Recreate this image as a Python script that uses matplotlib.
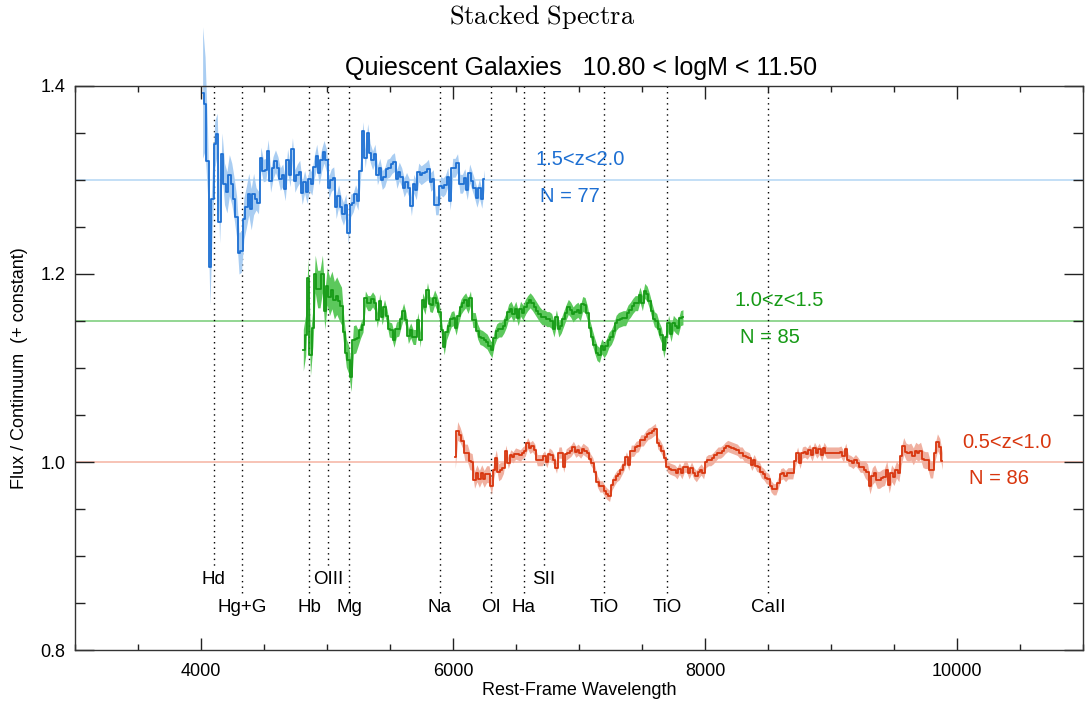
import numpy as np
import matplotlib.pyplot as plt
from matplotlib.ticker import MultipleLocator

plt.rcParams['font.family'] = ['Liberation Sans', 'DejaVu Sans']
plt.rcParams['mathtext.fontset'] = 'cm'

# stacked spectra (20 A bins)
blue_flux = [1.393, 1.381, 1.320, 1.207, 1.280, 1.338, 1.349, 1.255, 1.328, 1.296,
             1.287, 1.305, 1.296, 1.280, 1.261, 1.222, 1.224, 1.259, 1.271, 1.285,
             1.269, 1.285, 1.280, 1.276, 1.323, 1.310, 1.311, 1.331, 1.299, 1.313,
             1.320, 1.313, 1.301, 1.305, 1.290, 1.321, 1.305, 1.333, 1.299, 1.305,
             1.309, 1.286, 1.298, 1.287, 1.301, 1.296, 1.314, 1.326, 1.307, 1.321,
             1.330, 1.321, 1.292, 1.300, 1.302, 1.271, 1.283, 1.271, 1.264, 1.273,
             1.244, 1.273, 1.276, 1.285, 1.278, 1.310, 1.352, 1.323, 1.350, 1.329,
             1.321, 1.328, 1.305, 1.313, 1.300, 1.303, 1.312, 1.313, 1.317, 1.319,
             1.301, 1.309, 1.303, 1.292, 1.298, 1.292, 1.272, 1.296, 1.289, 1.308,
             1.305, 1.307, 1.309, 1.312, 1.298, 1.301, 1.273, 1.273, 1.294, 1.292,
             1.295, 1.303, 1.278, 1.313, 1.313, 1.318, 1.296, 1.296, 1.302, 1.289,
             1.307, 1.299, 1.291, 1.281, 1.291, 1.280, 1.301]
blue_err = ([0.07, 0.05, 0.035, 0.04, 0.03, 0.025] + [0.022] * 16 + [0.012] * 40
            + [0.01] * 55)
blue_range = (4013, 6248)

green_flux = [1.119, 1.135, 1.196, 1.114, 1.143, 1.200, 1.184, 1.184, 1.200, 1.161,
              1.187, 1.176, 1.183, 1.172, 1.177, 1.171, 1.166, 1.138, 1.116, 1.109,
              1.090, 1.130, 1.131, 1.132, 1.140, 1.146, 1.174, 1.169, 1.169, 1.173,
              1.169, 1.151, 1.171, 1.154, 1.165, 1.155, 1.141, 1.140, 1.130, 1.141,
              1.142, 1.152, 1.161, 1.151, 1.134, 1.140, 1.133, 1.133, 1.151, 1.130,
              1.172, 1.165, 1.183, 1.168, 1.167, 1.175, 1.169, 1.160, 1.140, 1.122,
              1.138, 1.145, 1.152, 1.153, 1.143, 1.155, 1.165, 1.169, 1.172, 1.166,
              1.174, 1.151, 1.151, 1.139, 1.133, 1.132, 1.130, 1.128, 1.123, 1.119,
              1.132, 1.139, 1.141, 1.141, 1.145, 1.151, 1.160, 1.163, 1.157, 1.163,
              1.153, 1.163, 1.159, 1.165, 1.169, 1.172, 1.169, 1.165, 1.161, 1.157,
              1.154, 1.154, 1.152, 1.152, 1.150, 1.141, 1.154, 1.141, 1.145, 1.152,
              1.159, 1.165, 1.162, 1.157, 1.160, 1.162, 1.158, 1.168, 1.167, 1.158,
              1.143, 1.133, 1.124, 1.116, 1.114, 1.123, 1.119, 1.123, 1.130, 1.133,
              1.139, 1.148, 1.151, 1.152, 1.153, 1.153, 1.159, 1.162, 1.166, 1.169,
              1.169, 1.178, 1.169, 1.182, 1.179, 1.171, 1.161, 1.152, 1.150, 1.141,
              1.135, 1.119, 1.133, 1.148, 1.136, 1.148, 1.145, 1.143, 1.153, 1.154]
green_err = ([0.022, 0.022, 0.02, 0.022, 0.02] + [0.02] * 12 + [0.015] * 6
             + [0.008] * 137)
green_range = (4812, 7825)

red_flux = [1.005, 1.033, 1.029, 1.022, 1.010, 1.010, 1.001, 1.000, 0.981, 0.988,
            0.982, 0.988, 0.982, 0.987, 0.987, 0.974, 0.992, 1.004, 0.989, 0.991,
            0.994, 1.012, 0.999, 1.007, 1.005, 1.009, 1.008, 1.007, 1.010, 1.012,
            1.020, 1.015, 1.017, 1.013, 1.002, 1.002, 1.002, 1.006, 1.000, 1.009,
            1.007, 1.002, 0.994, 1.010, 1.010, 0.995, 1.008, 1.010, 1.012, 1.016,
            1.011, 1.013, 1.010, 1.014, 1.012, 1.010, 1.003, 0.999, 0.989, 0.979,
            0.974, 0.974, 0.969, 0.966, 0.964, 0.976, 0.981, 0.985, 0.987, 0.992,
            0.997, 1.005, 0.997, 1.012, 1.012, 1.016, 1.017, 1.023, 1.023, 1.027,
            1.030, 1.031, 1.033, 1.035, 1.020, 1.017, 1.012, 1.004, 0.995, 0.993,
            0.992, 0.991, 0.988, 0.993, 0.988, 0.995, 0.995, 0.988, 0.994, 0.988,
            0.985, 0.989, 0.992, 0.988, 1.000, 1.002, 1.002, 1.004, 1.007, 1.010,
            1.010, 1.012, 1.015, 1.017, 1.016, 1.015, 1.014, 1.013, 1.010, 1.010,
            1.006, 1.005, 1.004, 0.997, 1.002, 0.996, 0.995, 0.989, 0.987, 0.983,
            0.982, 0.974, 0.971, 0.971, 0.978, 0.987, 0.988, 0.985, 0.988, 0.988,
            0.988, 1.001, 1.010, 0.999, 1.010, 1.011, 1.009, 1.013, 1.007, 1.015,
            1.010, 1.014, 1.007, 1.015, 1.010, 1.010, 1.010, 1.010, 1.010, 1.010,
            1.011, 1.006, 1.014, 1.002, 1.001, 0.999, 1.002, 0.999, 0.995, 0.995,
            0.992, 0.989, 0.975, 0.985, 0.988, 0.981, 0.981, 0.983, 0.984, 0.992,
            0.976, 0.988, 0.984, 0.992, 0.988, 1.006, 1.017, 1.011, 1.010, 1.011,
            1.006, 1.012, 1.010, 1.012, 1.003, 1.002, 1.002, 0.992, 0.992, 1.010,
            1.021, 1.016, 1.001]
red_err = ([0.012, 0.01, 0.008, 0.007] + [0.009] * 16 + [0.006] * 150
           + [0.009] * 33)
red_range = (6018, 9883)

# spectral features: name, wavelength, label row (0 upper, 1 lower)
line_names = ['Hd', 'Hg+G', 'Hb', 'OIII', 'Mg', 'Na', 'OI', 'Ha', 'SII', 'TiO', 'TiO', 'CaII']
line_waves = [4102, 4325, 4861, 5007, 5175, 5893, 6300, 6563, 6720, 7200, 7700, 8500]
line_rows = [0, 1, 1, 0, 1, 1, 1, 1, 0, 1, 1, 1]

fig = plt.figure(figsize=(10.85, 7.04), dpi=100)
ax = fig.add_axes([75/1085, 1-650/704, 1008/1085, 564/704])

# dotted feature markers
for name, wl, row in zip(line_names, line_waves, line_rows):
    ybot = 0.889 if row == 0 else 0.858
    ylab = 0.875 if row == 0 else 0.845
    ax.plot([wl, wl], [1.4, ybot], color='black', lw=1.0, ls=(0, (1, 3)), zorder=1)
    ax.text(wl, ylab, name, ha='center', va='center', fontsize=13.5)

series = [
    (blue_flux, blue_err, blue_range, 1.30, '#1d6fd2', '#a9cdf2', '#b9d9f5',
     '1.5<z<2.0', 'N = 77', (6654, 1.322), (6693, 1.282)),
    (green_flux, green_err, green_range, 1.15, '#169a16', '#5cc85c', '#80cf80',
     '1.0<z<1.5', 'N = 85', (8237, 1.172), (8277, 1.132)),
    (red_flux, red_err, red_range, 1.00, '#d8360e', '#f0b0a0', '#f6b9a9',
     '0.5<z<1.0', 'N = 86', (10041, 1.021), (10097, 0.982)),
]

for flux, err, rng, level, lc, fc, hc, zlab, nlab, p1, p2 in series:
    flux = np.array(flux)
    err = np.array(err[:len(flux)])
    wave = np.linspace(rng[0], rng[1], len(flux))
    ax.axhline(level, color=hc, lw=1.2, zorder=0)
    ax.fill_between(wave, flux - err, flux + err, color=fc, lw=0, zorder=2, clip_on=False)
    ax.plot(wave, flux, drawstyle='steps-mid', color=lc, lw=1.3, zorder=3)
    ax.text(p1[0], p1[1], zlab, color=lc, fontsize=14.5, ha='left', va='center')
    ax.text(p2[0], p2[1], nlab, color=lc, fontsize=14.5, ha='left', va='center')

ax.set_xlim(3000, 11000)
ax.set_ylim(0.8, 1.4)
ax.xaxis.set_major_locator(MultipleLocator(2000))
ax.xaxis.set_minor_locator(MultipleLocator(500))
ax.yaxis.set_major_locator(MultipleLocator(0.2))
ax.yaxis.set_minor_locator(MultipleLocator(0.05))
ax.yaxis.set_major_formatter(plt.FormatStrFormatter('%.1f'))
ax.xaxis.set_major_formatter(plt.FormatStrFormatter('%d'))
ax.tick_params(axis='both', which='both', direction='in', top=True, right=True,
               labelsize=13, width=1.0, color='#222222')
ax.tick_params(axis='x', which='major', length=9, pad=9)
ax.tick_params(axis='x', which='minor', length=4.5)
ax.tick_params(axis='y', which='major', length=14, pad=7)
ax.tick_params(axis='y', which='minor', length=7)
for sp in ax.spines.values():
    sp.set_color('#333333')
    sp.set_linewidth(1.0)

ax.set_xlabel('Rest-Frame Wavelength', fontsize=13, labelpad=2)
ax.set_ylabel('Flux / Continuum  (+ constant)', fontsize=13, labelpad=9)

fig.text(0.5, 1-17/704, r'$\mathrm{Stacked\ Spectra}$', ha='center', va='center', fontsize=19)
fig.text(581/1085, 1-68/704, 'Quiescent Galaxies   10.80 < logM < 11.50',
         ha='center', va='center', fontsize=18)

plt.savefig('out.png', dpi=100)
